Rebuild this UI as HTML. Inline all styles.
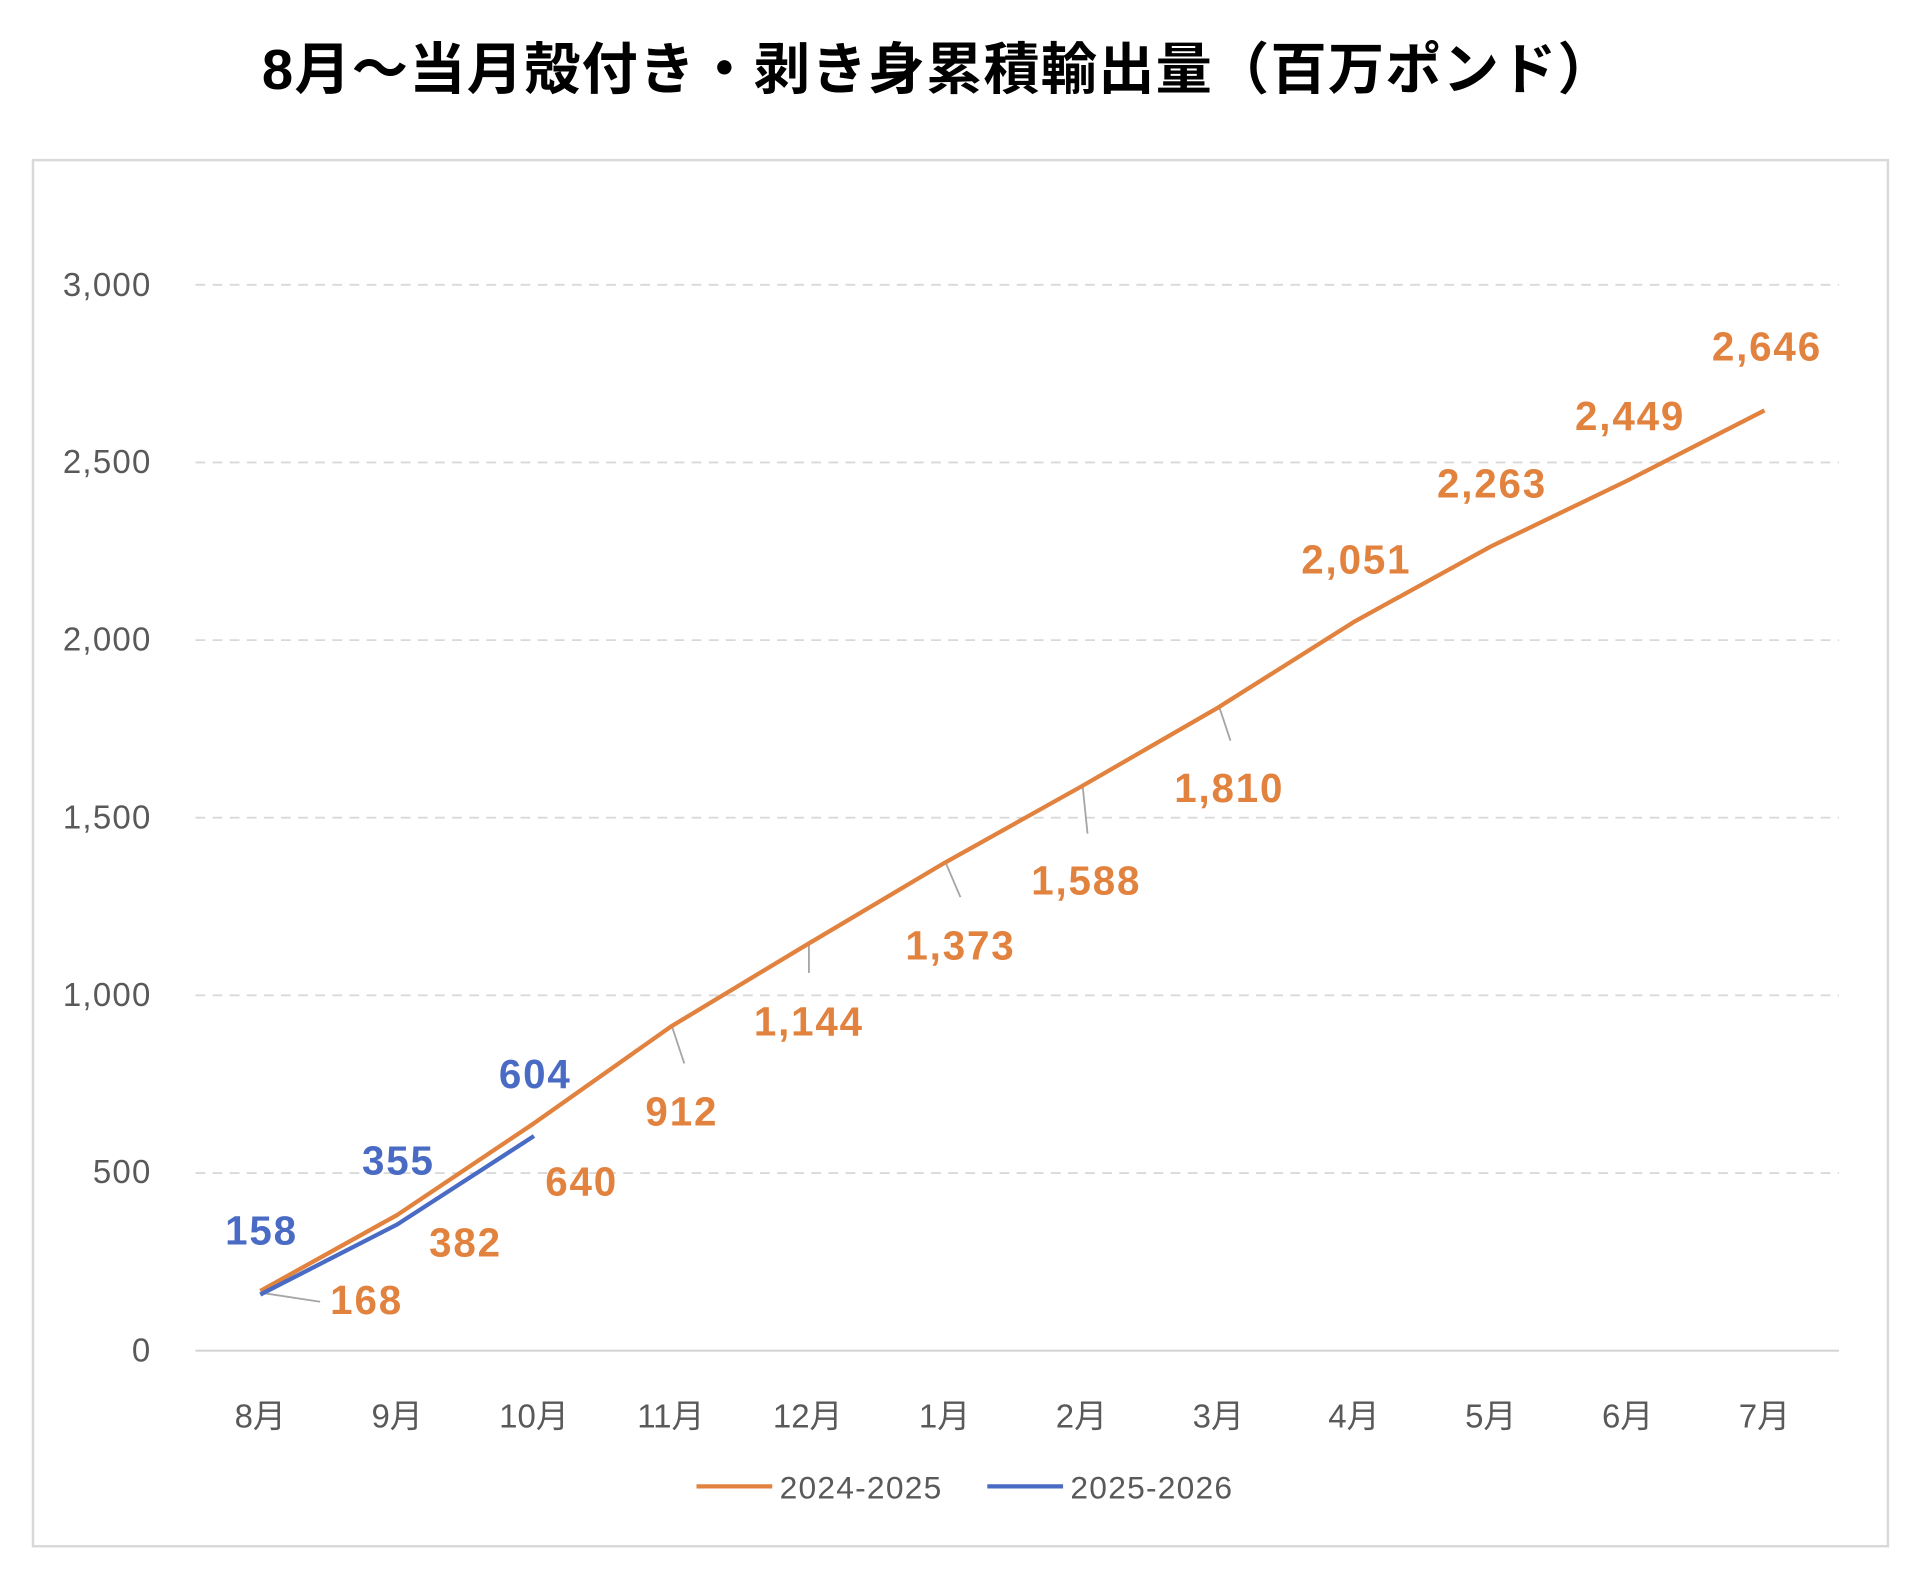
<!DOCTYPE html>
<html><head><meta charset="utf-8"><style>
html,body{margin:0;padding:0;background:#fff;width:1916px;height:1578px;overflow:hidden}
svg{display:block}
text{font-family:"Liberation Sans","Noto Sans CJK JP",sans-serif}
</style></head><body>
<svg width="1916" height="1578" viewBox="0 0 1568 1291" preserveAspectRatio="none">
<text x="768" y="73" text-anchor="middle" font-size="46" font-weight="bold" fill="#000" letter-spacing="1">8月～当月殻付き・剥き身累積輸出量（百万ポンド）</text>
<rect x="27" y="131" width="1518" height="1134" fill="#fff" stroke="#d9d9d9" stroke-width="2"/>
<g stroke="#d9d9d9" stroke-width="1.5" stroke-dasharray="8,6">
<line x1="160" x2="1505" y1="233" y2="233"/>
<line x1="160" x2="1505" y1="378.3" y2="378.3"/>
<line x1="160" x2="1505" y1="523.7" y2="523.7"/>
<line x1="160" x2="1505" y1="669" y2="669"/>
<line x1="160" x2="1505" y1="814.3" y2="814.3"/>
<line x1="160" x2="1505" y1="959.7" y2="959.7"/>
</g>
<line x1="160" x2="1505" y1="1105" y2="1105" stroke="#d0d0d0" stroke-width="1.5"/>
<g font-size="27" fill="#595959" text-anchor="end" letter-spacing="1">
<text x="124" y="242">3,000</text><text x="124" y="387">2,500</text><text x="124" y="532">2,000</text>
<text x="124" y="678">1,500</text><text x="124" y="823">1,000</text><text x="124" y="968">500</text><text x="124" y="1114">0</text>
</g>
<g font-size="27" fill="#595959" text-anchor="middle">
<text x="213" y="1168">8月</text><text x="325" y="1168">9月</text><text x="437" y="1168">10月</text><text x="549" y="1168">11月</text>
<text x="661" y="1168">12月</text><text x="773" y="1168">1月</text><text x="885" y="1168">2月</text><text x="997" y="1168">3月</text>
<text x="1108" y="1168">4月</text><text x="1220" y="1168">5月</text><text x="1332" y="1168">6月</text><text x="1444" y="1168">7月</text>
</g>
<g stroke="#a6a6a6" stroke-width="1.5" fill="none">
<path d="M216 1058 L262 1065"/>
<path d="M550 840 L560 870"/>
<path d="M662 772 L662 796"/>
<path d="M774 706 L786 734"/>
<path d="M886 643 L890 682"/>
<path d="M998 579 L1007 606"/>
</g>
<polyline fill="none" stroke="#E2823F" stroke-width="3.5" stroke-linejoin="round" points="213,1056.2 325,994 437,919 549,839.9 661,772.4 773,705.9 885,643.4 997,578.8 1108,508.8 1220,447.1 1332,393.1 1444,335.8"/>
<polyline fill="none" stroke="#4A6BC4" stroke-width="3.5" stroke-linejoin="round" points="213,1059.1 325,1001.8 437,929.4"/>
<g font-size="33" font-weight="bold" fill="#E2823F" text-anchor="middle" letter-spacing="1.5">
<text x="300" y="1075">168</text><text x="381" y="1028">382</text><text x="476" y="978">640</text><text x="558" y="921">912</text>
<text x="662" y="847">1,144</text><text x="786" y="785">1,373</text><text x="889" y="732">1,588</text><text x="1006" y="656">1,810</text>
<text x="1110" y="469">2,051</text><text x="1221" y="407">2,263</text><text x="1334" y="352">2,449</text><text x="1446" y="295">2,646</text>
</g>
<g font-size="33" font-weight="bold" fill="#4A6BC4" text-anchor="middle" letter-spacing="1.5">
<text x="214" y="1018">158</text><text x="326" y="961">355</text><text x="438" y="890">604</text>
</g>
<line x1="570" x2="632" y1="1216" y2="1216" stroke="#E2823F" stroke-width="3.5"/>
<text x="638" y="1226" font-size="26" fill="#595959" letter-spacing="1">2024-2025</text>
<line x1="808" x2="870" y1="1216" y2="1216" stroke="#4A6BC4" stroke-width="3.5"/>
<text x="876" y="1226" font-size="26" fill="#595959" letter-spacing="1">2025-2026</text>
</svg>
</body></html>
